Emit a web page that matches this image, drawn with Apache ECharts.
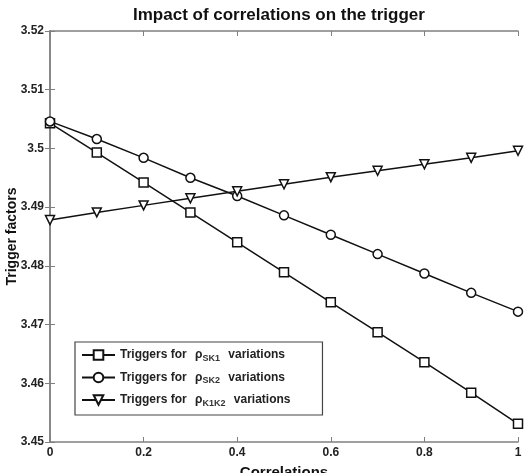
<!DOCTYPE html>
<html><head><meta charset="utf-8">
<script src="https://cdn.jsdelivr.net/npm/echarts@6/dist/echarts.min.js"></script>
<style>html,body{margin:0;padding:0;background:#fff}#c{width:531px;height:473px}</style>
</head><body><div id="c"></div>
<script>
var correlations = [0, 0.1, 0.2, 0.3, 0.4, 0.5, 0.6, 0.7, 0.8, 0.9, 1];
var triggersSK1 = [3.5043, 3.4993, 3.4942, 3.4891, 3.4840, 3.4789, 3.4738, 3.4687, 3.4636, 3.4584, 3.4531];
var triggersSK2 = [3.5046, 3.5016, 3.4984, 3.4950, 3.4919, 3.4886, 3.4853, 3.4820, 3.4787, 3.4754, 3.4722];
var triggersK1K2 = [3.4878, 3.4891, 3.4903, 3.4915, 3.4927, 3.4939, 3.4951, 3.4962, 3.4973, 3.4984, 3.4996];
var seriesNames = ['SK1', 'SK2', 'K1K2'];
var yTicks = [3.45, 3.46, 3.47, 3.48, 3.49, 3.5, 3.51, 3.52];
var xTicks = [0, 0.2, 0.4, 0.6, 0.8, 1];

function pairs(vals){ return correlations.map(function(x,i){return [x, vals[i]];}); }
var FONT = '"Liberation Sans", Arial, sans-serif';
var axisCommon = {
  axisLine:{show:true, lineStyle:{color:'#808080', width:1.5}},
  axisTick:{show:true, inside:true, length:5, lineStyle:{color:'#808080'}},
  splitLine:{show:false}
};
function mkSeries(name, vals, symbol, rot){
  return {name:name, type:'line', data:pairs(vals), symbol:symbol, symbolSize:9, symbolRotate:rot||0,
    lineStyle:{color:'#111', width:1.5}, itemStyle:{color:'#fff', borderColor:'#111', borderWidth:1.5},
    animation:false};
}
var chart = echarts.init(document.getElementById('c'));
chart.setOption({
  animation:false,
  title:{text:'Impact of correlations on the trigger', left:128, top:2,
    textStyle:{fontFamily:FONT, fontWeight:'bold', fontSize:17, color:'#111'}},
  grid:{left:50, right:13, top:31, bottom:31, outerBoundsMode:'none', containLabel:false},
  xAxis:[
    Object.assign({type:'value', min:0, max:1, interval:0.2, position:'bottom',
      name:'Correlations', nameLocation:'middle', nameGap:23, nameMoveOverlap:false,
      nameTextStyle:{fontFamily:FONT, fontWeight:'bold', fontSize:15, color:'#111'},
      axisLabel:{fontFamily:FONT, fontWeight:'bold', fontSize:12, color:'#222', margin:5,
        formatter:function(v){return String(+v.toFixed(1));}}}, axisCommon),
    Object.assign({type:'value', min:0, max:1, interval:0.2, position:'top', axisLabel:{show:false}}, axisCommon)
  ],
  yAxis:[
    Object.assign({type:'value', min:3.45, max:3.52, interval:0.01, position:'left',
      name:'Trigger factors', nameLocation:'middle', nameGap:31, nameMoveOverlap:false,
      nameTextStyle:{fontFamily:FONT, fontWeight:'bold', fontSize:14, color:'#111'},
      axisLabel:{fontFamily:FONT, fontWeight:'bold', fontSize:12, color:'#222', margin:6,
        formatter:function(v){return String(+v.toFixed(2));}}}, axisCommon),
    Object.assign({type:'value', min:3.45, max:3.52, interval:0.01, position:'right', axisLabel:{show:false}}, axisCommon)
  ],
  legend:{orient:'vertical', left:75, top:342, itemWidth:33, itemHeight:12, itemGap:8.5,
    padding:[7,32,7,6], borderColor:'#444', borderWidth:1.2, backgroundColor:'#fff',
    data:seriesNames,
    formatter:function(n){ return '{a|Triggers for }{r|ρ}{s|'+n+'}{a| variations}'; },
    textStyle:{fontFamily:FONT, fontWeight:'bold', fontSize:12, color:'#222',
      rich:{a:{fontFamily:FONT, fontWeight:'bold', fontSize:12, color:'#222'},
            r:{fontFamily:FONT, fontWeight:'bold', fontSize:12, color:'#222', padding:[0,0,0,5]},
            s:{fontFamily:FONT, fontSize:9, color:'#333', padding:[7,5,0,0]}}}},
  series:[
    mkSeries('SK1', triggersSK1, 'rect'),
    mkSeries('SK2', triggersSK2, 'circle'),
    mkSeries('K1K2', triggersK1K2, 'triangle', 180)
  ]
});
</script></body></html>
